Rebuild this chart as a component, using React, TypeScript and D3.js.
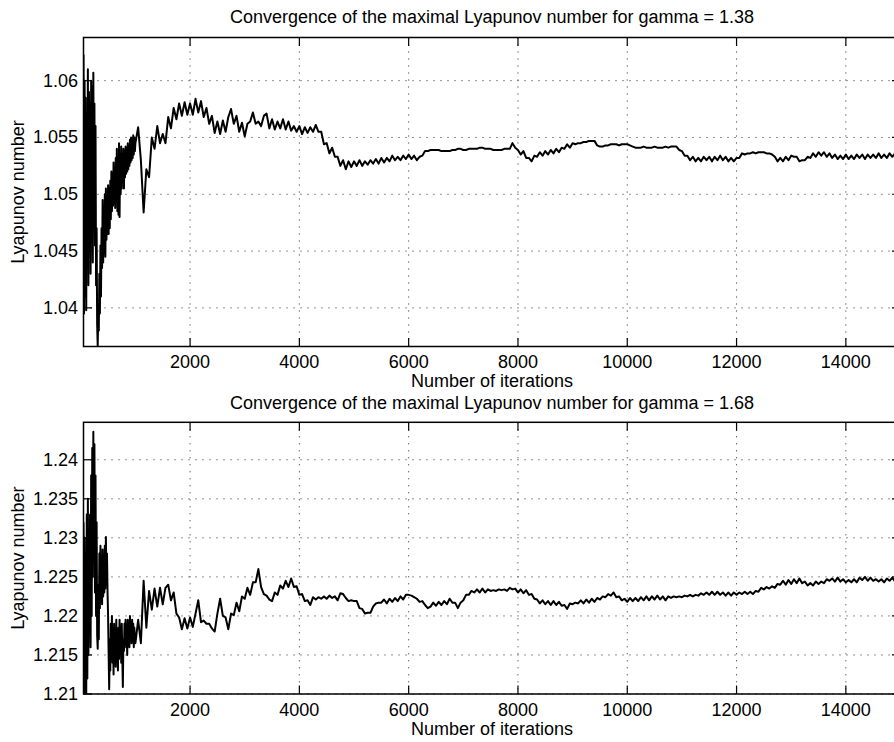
import React from 'react';
import * as d3 from 'd3';

const TITLE_TOP = 'Convergence of the maximal Lyapunov number for gamma = 1.38';
const TITLE_BOTTOM = 'Convergence of the maximal Lyapunov number for gamma = 1.68';
const X_LABEL = 'Number of iterations';
const Y_LABEL = 'Lyapunov number';
const X_TICKS = [2000, 4000, 6000, 8000, 10000, 12000, 14000];
const Y_TICKS_TOP = [1.04, 1.045, 1.05, 1.055, 1.06];
const Y_TICKS_BOTTOM = [1.21, 1.215, 1.22, 1.225, 1.23, 1.235, 1.24];
const X_DOMAIN = [50, 15000];
const Y_DOMAIN_TOP = [1.0366, 1.0638];
const Y_DOMAIN_BOTTOM = [1.21, 1.2448];

// iterations: early segment 50,60,...,990 ; late segment 1000,1050,...,15000
const EARLY_START = 50;
const EARLY_STEP = 10;
const LATE_START = 1000;
const LATE_STEP = 50;

const topEarly = [
  1.0623, 1.0395, 1.0600, 1.0410, 1.0585, 1.0398, 1.0560, 1.0440, 1.0610, 1.0420,
  1.0590, 1.0450, 1.0580, 1.0430, 1.0600, 1.0460, 1.0595, 1.0440, 1.0607, 1.0470,
  1.0580, 1.0455, 1.0560, 1.0420, 1.0470, 1.0385, 1.0366, 1.0400, 1.0380, 1.0430,
  1.0395, 1.0455, 1.0410, 1.0470, 1.0435, 1.0495, 1.0440, 1.0480, 1.0450, 1.0500,
  1.0445, 1.0505, 1.0460, 1.0495, 1.0465, 1.0508, 1.0465, 1.0505, 1.0470, 1.0512,
  1.0478, 1.0520, 1.0485, 1.0515, 1.0490, 1.0528, 1.0492, 1.0518, 1.0488, 1.0532,
  1.0495, 1.0540, 1.0485, 1.0530, 1.0482, 1.0545, 1.0480, 1.0535, 1.0500, 1.0542,
  1.0505, 1.0530, 1.0510, 1.0540, 1.0505, 1.0538, 1.0515, 1.0542, 1.0518, 1.0540,
  1.0520, 1.0545, 1.0522, 1.0540, 1.0525, 1.0548, 1.0528, 1.0550, 1.0530, 1.0548,
  1.0532, 1.0552, 1.0535, 1.0550, 1.0538,
];

const topLate = [
  1.0545, 1.0559, 1.0530, 1.0484, 1.0522, 1.0515, 1.0550, 1.0540, 1.0560, 1.0545,
  1.0553, 1.0545, 1.0568, 1.0558, 1.0576, 1.0566, 1.0580, 1.0569, 1.0581, 1.0570,
  1.0580, 1.0570, 1.0584, 1.0572, 1.0582, 1.0568, 1.0576, 1.0562, 1.0569, 1.0554,
  1.0564, 1.0553, 1.0565, 1.0555, 1.0568, 1.0575, 1.0562, 1.0569, 1.0555, 1.0563,
  1.0551, 1.0562, 1.0564, 1.0572, 1.0562, 1.0564, 1.0560, 1.0569, 1.0571, 1.0558,
  1.0566, 1.0557, 1.0564, 1.0558, 1.0566, 1.0557, 1.0564, 1.0556, 1.0560, 1.0555,
  1.0560, 1.0553, 1.0559, 1.0554, 1.0559, 1.0555, 1.0561, 1.0555, 1.0555, 1.0544,
  1.0545, 1.0536, 1.0541, 1.0533, 1.0533, 1.0525, 1.0530, 1.0522, 1.0529, 1.0524,
  1.0529, 1.0525, 1.0530, 1.0525, 1.0529, 1.0526, 1.0530, 1.0527, 1.0531, 1.0527,
  1.0532, 1.0528, 1.0532, 1.0529, 1.0534, 1.0530, 1.0533, 1.0530, 1.0534, 1.0531,
  1.0535, 1.0531, 1.0534, 1.0530, 1.0533, 1.0534, 1.0538, 1.0538, 1.0539, 1.0539,
  1.0539, 1.0539, 1.0538, 1.0538, 1.0538, 1.0538, 1.0539, 1.0539, 1.0540, 1.0540,
  1.0539, 1.0539, 1.0540, 1.0540, 1.0540, 1.0540, 1.0541, 1.0541, 1.0540, 1.0540,
  1.0540, 1.0539, 1.0539, 1.0539, 1.0539, 1.0540, 1.0540, 1.0540, 1.0545, 1.0541,
  1.0539, 1.0535, 1.0538, 1.0532, 1.0532, 1.0529, 1.0534, 1.0533, 1.0537, 1.0534,
  1.0538, 1.0535, 1.0539, 1.0536, 1.0540, 1.0537, 1.0541, 1.0540, 1.0544, 1.0541,
  1.0545, 1.0544, 1.0545, 1.0545, 1.0546, 1.0546, 1.0547, 1.0547, 1.0547, 1.0543,
  1.0542, 1.0542, 1.0543, 1.0543, 1.0544, 1.0544, 1.0544, 1.0543, 1.0544, 1.0544,
  1.0544, 1.0543, 1.0542, 1.0541, 1.0541, 1.0541, 1.0542, 1.0541, 1.0541, 1.0541,
  1.0542, 1.0541, 1.0541, 1.0541, 1.0542, 1.0541, 1.0542, 1.0542, 1.0542, 1.0539,
  1.0538, 1.0534, 1.0534, 1.0530, 1.0533, 1.0529, 1.0532, 1.0529, 1.0533, 1.0530,
  1.0533, 1.0529, 1.0533, 1.0530, 1.0534, 1.0530, 1.0533, 1.0529, 1.0532, 1.0529,
  1.0532, 1.0532, 1.0536, 1.0535, 1.0536, 1.0536, 1.0537, 1.0536, 1.0537, 1.0537,
  1.0537, 1.0536, 1.0536, 1.0535, 1.0533, 1.0529, 1.0532, 1.0529, 1.0533, 1.0530,
  1.0534, 1.0533, 1.0533, 1.0529, 1.0530, 1.0530, 1.0533, 1.0532, 1.0536, 1.0533,
  1.0537, 1.0534, 1.0537, 1.0533, 1.0536, 1.0532, 1.0535, 1.0531, 1.0534, 1.0531,
  1.0535, 1.0531, 1.0534, 1.0531, 1.0535, 1.0532, 1.0535, 1.0531, 1.0535, 1.0532,
  1.0535, 1.0532, 1.0536, 1.0532, 1.0535, 1.0532, 1.0536, 1.0533, 1.0536, 1.0533,
  1.0535,
];

const bottomEarly = [
  1.2320, 1.2060, 1.2300, 1.2080, 1.2280, 1.2100, 1.2330, 1.2120, 1.2350, 1.2150,
  1.2290, 1.2180, 1.2330, 1.2160, 1.2380, 1.2200, 1.2415, 1.2250, 1.2436, 1.2280,
  1.2420, 1.2230, 1.2380, 1.2200, 1.2320, 1.2175, 1.2158, 1.2240, 1.2170, 1.2280,
  1.2210, 1.2290, 1.2220, 1.2270, 1.2215, 1.2285, 1.2225, 1.2275, 1.2230, 1.2290,
  1.2235, 1.2301, 1.2240, 1.2280, 1.2230, 1.2200, 1.2150, 1.2106, 1.2170, 1.2130,
  1.2190, 1.2150, 1.2200, 1.2140, 1.2180, 1.2125, 1.2190, 1.2145, 1.2175, 1.2135,
  1.2195, 1.2150, 1.2180, 1.2130, 1.2185, 1.2145, 1.2195, 1.2160, 1.2185, 1.2140,
  1.2190, 1.2150, 1.2109, 1.2170, 1.2155, 1.2190, 1.2165, 1.2195, 1.2160, 1.2185,
  1.2150, 1.2195, 1.2168, 1.2190, 1.2160, 1.2200, 1.2170, 1.2190, 1.2165, 1.2195,
  1.2175, 1.2190, 1.2160, 1.2185, 1.2170,
];

const bottomLate = [
  1.2165, 1.2195, 1.2165, 1.2245, 1.2185, 1.2232, 1.2208, 1.2235, 1.2212, 1.2236,
  1.2215, 1.2236, 1.2240, 1.2220, 1.2230, 1.2203, 1.2198, 1.2183, 1.2197, 1.2184,
  1.2198, 1.2186, 1.2203, 1.2220, 1.2192, 1.2194, 1.2190, 1.2190, 1.2184, 1.2180,
  1.2203, 1.2222, 1.2200, 1.2198, 1.2183, 1.2203, 1.2201, 1.2217, 1.2206, 1.2225,
  1.2222, 1.2236, 1.2227, 1.2243, 1.2243, 1.2260, 1.2237, 1.2228, 1.2226, 1.2221,
  1.2219, 1.2230, 1.2227, 1.2239, 1.2235, 1.2245, 1.2237, 1.2248, 1.2237, 1.2238,
  1.2227, 1.2228, 1.2219, 1.2220, 1.2214, 1.2224, 1.2221, 1.2224, 1.2222, 1.2225,
  1.2222, 1.2226, 1.2223, 1.2225, 1.2220, 1.2229, 1.2228, 1.2223, 1.2219, 1.2220,
  1.2219, 1.2219, 1.2210, 1.2209, 1.2203, 1.2204, 1.2204, 1.2212, 1.2216, 1.2217,
  1.2217, 1.2221, 1.2216, 1.2222, 1.2218, 1.2223, 1.2219, 1.2225, 1.2221, 1.2227,
  1.2227, 1.2226, 1.2224, 1.2222, 1.2218, 1.2219, 1.2214, 1.2210, 1.2212, 1.2217,
  1.2213, 1.2218, 1.2214, 1.2219, 1.2215, 1.2222, 1.2217, 1.2217, 1.2210, 1.2217,
  1.2220, 1.2227, 1.2227, 1.2232, 1.2230, 1.2234, 1.2230, 1.2235, 1.2230, 1.2234,
  1.2232, 1.2233, 1.2232, 1.2234, 1.2233, 1.2234, 1.2232, 1.2236, 1.2234, 1.2235,
  1.2230, 1.2234, 1.2229, 1.2233, 1.2227, 1.2228, 1.2222, 1.2221, 1.2216, 1.2220,
  1.2215, 1.2219, 1.2214, 1.2219, 1.2214, 1.2218, 1.2213, 1.2214, 1.2209, 1.2216,
  1.2215, 1.2217, 1.2216, 1.2220, 1.2216, 1.2221, 1.2217, 1.2222, 1.2218, 1.2223,
  1.2221, 1.2225, 1.2224, 1.2228, 1.2226, 1.2230, 1.2224, 1.2225, 1.2220, 1.2222,
  1.2218, 1.2223, 1.2219, 1.2223, 1.2219, 1.2224, 1.2220, 1.2225, 1.2220, 1.2225,
  1.2221, 1.2226, 1.2221, 1.2225, 1.2220, 1.2225, 1.2223, 1.2225, 1.2224, 1.2225,
  1.2224, 1.2226, 1.2225, 1.2227, 1.2225, 1.2227, 1.2226, 1.2229, 1.2227, 1.2230,
  1.2227, 1.2231, 1.2227, 1.2231, 1.2227, 1.2230, 1.2226, 1.2230, 1.2226, 1.2230,
  1.2227, 1.2230, 1.2228, 1.2231, 1.2228, 1.2231, 1.2228, 1.2232, 1.2231, 1.2236,
  1.2234, 1.2237, 1.2235, 1.2238, 1.2236, 1.2241, 1.2240, 1.2245, 1.2240, 1.2246,
  1.2241, 1.2247, 1.2242, 1.2248, 1.2242, 1.2244, 1.2239, 1.2242, 1.2239, 1.2244,
  1.2241, 1.2244, 1.2242, 1.2247, 1.2245, 1.2248, 1.2244, 1.2249, 1.2244, 1.2247,
  1.2243, 1.2246, 1.2243, 1.2247, 1.2243, 1.2249, 1.2246, 1.2250, 1.2245, 1.2249,
  1.2245, 1.2247, 1.2244, 1.2247, 1.2243, 1.2248, 1.2245, 1.2249, 1.2244, 1.2248,
  1.2246,
];

const FONT = '"Liberation Sans", Arial, Helvetica, sans-serif';
const FS = 18;
const W = 894;
const H = 742;
const LEFT = 83.5;
const RIGHT = 900.5;
const TICK = 8.5;

type Pt = [number, number];

function buildSeries(early: number[], late: number[]): Pt[] {
  const a: Pt[] = early.map((v, i) => [EARLY_START + i * EARLY_STEP, v]);
  const b: Pt[] = late.map((v, i) => [LATE_START + i * LATE_STEP, v]);
  return a.concat(b);
}

interface PanelProps {
  id: string;
  top: number;
  bottom: number;
  yDomain: number[];
  yTicks: number[];
  title: string;
  titleY: number;
  data: Pt[];
}

function Panel({ id, top, bottom, yDomain, yTicks, title, titleY, data }: PanelProps) {
  const x = d3.scaleLinear().domain(X_DOMAIN).range([LEFT, RIGHT]);
  const y = d3.scaleLinear().domain(yDomain).range([bottom, top]);
  const line = d3
    .line<Pt>()
    .x((d) => x(d[0]))
    .y((d) => y(d[1]));
  const cx = (LEFT + RIGHT) / 2;
  return (
    <g>
      <defs>
        <clipPath id={id}>
          <rect x={LEFT} y={top} width={RIGHT - LEFT} height={bottom - top} />
        </clipPath>
      </defs>
      <g stroke="#000" strokeWidth={1} strokeDasharray="1 6" opacity={0.85}>
        {X_TICKS.map((t) => (
          <line key={'gx' + t} x1={x(t)} x2={x(t)} y1={top} y2={bottom} />
        ))}
        {yTicks.map((t) => (
          <line key={'gy' + t} x1={LEFT} x2={RIGHT} y1={y(t)} y2={y(t)} />
        ))}
      </g>
      <path
        d={line(data) || ''}
        fill="none"
        stroke="#000"
        strokeWidth={2}
        strokeLinejoin="round"
        clipPath={`url(#${id})`}
      />
      <rect x={LEFT} y={top} width={RIGHT - LEFT} height={bottom - top} fill="none" stroke="#000" strokeWidth={1.5} />
      <g stroke="#000" strokeWidth={1.2}>
        {X_TICKS.map((t) => (
          <g key={'tx' + t}>
            <line x1={x(t)} x2={x(t)} y1={bottom} y2={bottom - TICK} />
            <line x1={x(t)} x2={x(t)} y1={top} y2={top + TICK} />
          </g>
        ))}
        {yTicks.map((t) => (
          <g key={'ty' + t}>
            <line x1={LEFT} x2={LEFT + TICK} y1={y(t)} y2={y(t)} />
            <line x1={RIGHT} x2={RIGHT - TICK} y1={y(t)} y2={y(t)} />
          </g>
        ))}
      </g>
      <g fontFamily={FONT} fontSize={FS} fill="#000">
        {X_TICKS.map((t) => (
          <text key={'lx' + t} x={x(t)} y={bottom + 21.5} textAnchor="middle">
            {String(t)}
          </text>
        ))}
        {yTicks.map((t) => (
          <text key={'ly' + t} x={78} y={y(t) + 6} textAnchor="end">
            {String(t)}
          </text>
        ))}
        <text x={cx} y={bottom + 40.5} textAnchor="middle">
          {X_LABEL}
        </text>
        <text x={cx} y={titleY} textAnchor="middle">
          {title}
        </text>
        <text transform={`translate(24,${(top + bottom) / 2}) rotate(-90)`} textAnchor="middle">
          {Y_LABEL}
        </text>
      </g>
    </g>
  );
}

export default function App() {
  const topData = buildSeries(topEarly, topLate);
  const bottomData = buildSeries(bottomEarly, bottomLate);
  return (
    <svg
      width={W}
      height={H}
      style={{ position: 'absolute', left: 0, top: 0, background: '#fff' }}
    >
      <rect x={0} y={0} width={W} height={H} fill="#fff" />
      <Panel
        id="clipTop"
        top={37.5}
        bottom={346.5}
        yDomain={Y_DOMAIN_TOP}
        yTicks={Y_TICKS_TOP}
        title={TITLE_TOP}
        titleY={23}
        data={topData}
      />
      <Panel
        id="clipBottom"
        top={422.3}
        bottom={694}
        yDomain={Y_DOMAIN_BOTTOM}
        yTicks={Y_TICKS_BOTTOM}
        title={TITLE_BOTTOM}
        titleY={409}
        data={bottomData}
      />
    </svg>
  );
}
